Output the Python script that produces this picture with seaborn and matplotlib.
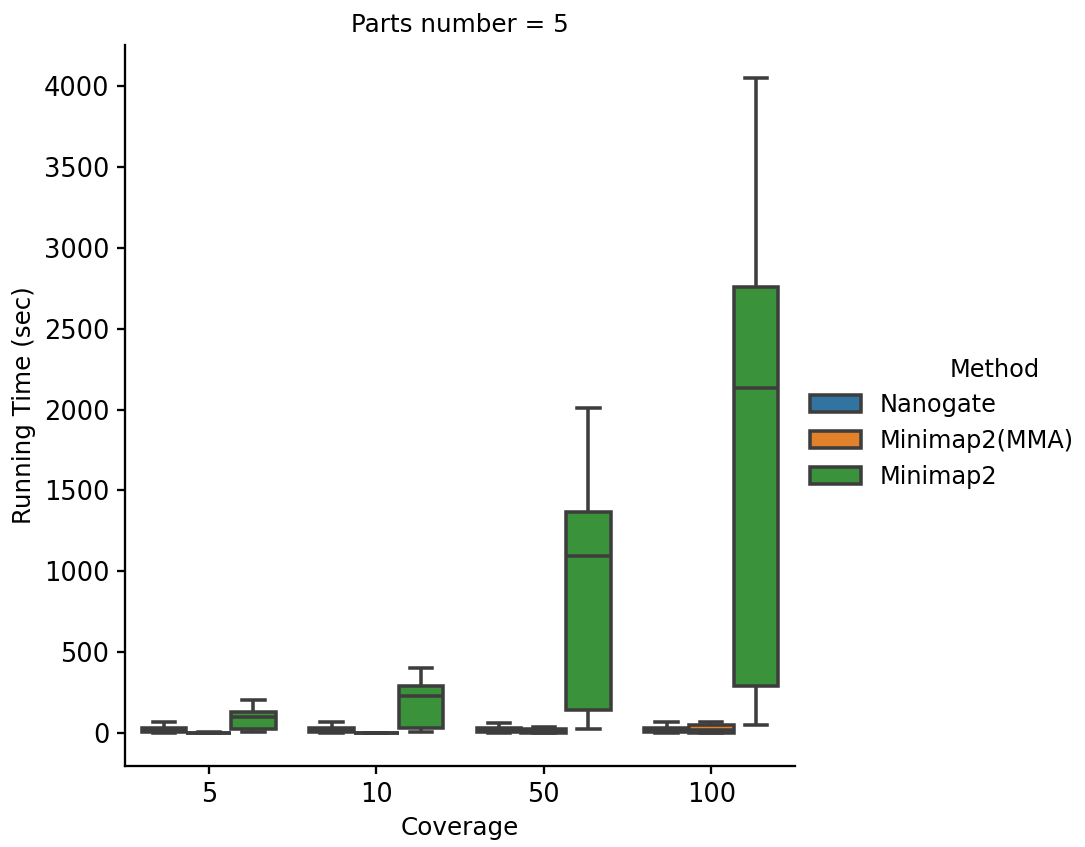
import matplotlib
matplotlib.use("Agg")
import matplotlib.pyplot as plt
import seaborn as sns
import pandas as pd

# ---- data ----
coverage = ["5", "10", "50", "100"]
methods = ["Nanogate", "Minimap2(MMA)", "Minimap2"]

# running times (sec), one small sample per coverage level
nanogate = [
    [2, 8, 22, 34, 68],
    [3, 9, 21, 33, 67],
    [2, 8, 20, 32, 66],
    [3, 9, 22, 34, 67],
]
minimap2_mma = [
    [0.5, 1, 2, 3, 5],
    [0.5, 1, 2, 3, 4],
    [0, 3, 12, 28, 40],
    [0, 4, 18, 50, 72],
]
minimap2 = [
    [6, 25, 100, 132, 205],
    [10, 33, 227, 290, 403],
    [27, 143, 1097, 1368, 2010],
    [50, 292, 2135, 2755, 4050],
]
parts_number = 5

rows = []
for method, series in zip(methods, [nanogate, minimap2_mma, minimap2]):
    for cov, vals in zip(coverage, series):
        for v in vals:
            rows.append({"Coverage": cov, "Running Time (sec)": v,
                         "Method": method, "Parts number": parts_number})
df = pd.DataFrame(rows)

DPI = 150
fig = plt.figure(figsize=(1085 / DPI, 847 / DPI), dpi=DPI)
ax = fig.add_axes([125 / 1085, 81 / 847, 670 / 1085, 721 / 847])

sns.boxplot(data=df, x="Coverage", y="Running Time (sec)", hue="Method",
            order=coverage, hue_order=methods, ax=ax, linewidth=1.7)

for side in ["top", "right"]:
    ax.spines[side].set_visible(False)
for side in ["left", "bottom"]:
    ax.spines[side].set_linewidth(1.1)
ax.tick_params(axis="both", labelsize=12.3, width=1.1, length=4)
ax.set_xlabel("Coverage", fontsize=11.8)
ax.set_ylabel("Running Time (sec)", fontsize=11.8)
ax.set_title(f"Parts number = {parts_number}", fontsize=11.8)

leg = ax.get_legend()
handles = leg.legend_handles
labels = [t.get_text() for t in leg.get_texts()]
leg.remove()
fig.legend(handles, labels, loc="center left",
           bbox_to_anchor=(0.727, 1 - 441 / 847), frameon=False,
           fontsize=11.5, handlelength=2.1)
fig.text(995 / 1085, 1 - 370 / 847, "Method", ha="center", va="center",
         fontsize=11.5)

fig.savefig("out.png", dpi=DPI)
